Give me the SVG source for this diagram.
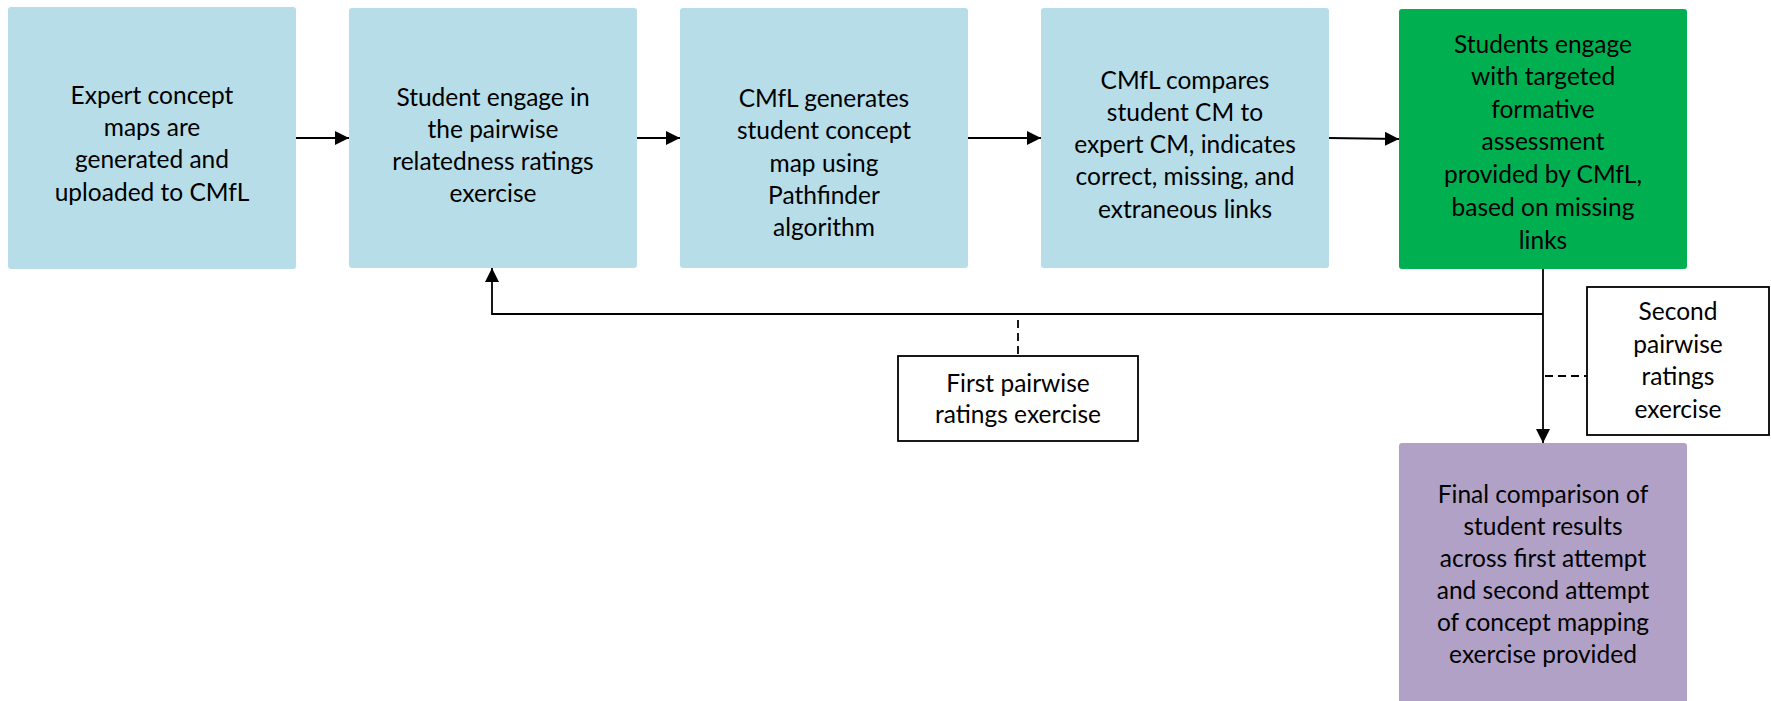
<svg xmlns="http://www.w3.org/2000/svg" width="1771" height="701" viewBox="0 0 1771 701">
  <style>
    .step { fill: #B7DDE8; }
    .feedback { fill: #00B050; }
    .final { fill: #B2A1C7; }
    .note { fill: #FFFFFF; stroke: #000000; stroke-width: 1.8; }
    text { font-family: Lato, "Open Sans", "Liberation Sans", sans-serif; font-size: 24.5px; fill: #000000; text-anchor: middle; }
    .wire { fill: none; stroke: #000000; stroke-width: 1.8; }
    .dash { fill: none; stroke: #000000; stroke-width: 1.8; stroke-dasharray: 8 5; }
  </style>
  <defs>
    <marker id="arrow" viewBox="0 0 14 14" refX="14" refY="7" markerWidth="14" markerHeight="14" markerUnits="userSpaceOnUse" orient="auto">
      <path d="M0,0 L14,7 L0,14 Z" fill="#000000"/>
    </marker>
  </defs>

  <g id="connectors">
    <line class="wire" x1="296" y1="138" x2="349" y2="138" marker-end="url(#arrow)"/>
    <line class="wire" x1="637" y1="138" x2="680" y2="138" marker-end="url(#arrow)"/>
    <line class="wire" x1="968" y1="138" x2="1041" y2="138" marker-end="url(#arrow)"/>
    <line class="wire" x1="1329" y1="138" x2="1399" y2="139" marker-end="url(#arrow)"/>
    <!-- loop back to the ratings exercise -->
    <polyline class="wire" points="1543,314 492,314 492,268" marker-end="url(#arrow)"/>
    <line class="wire" x1="1543" y1="269" x2="1543" y2="443" marker-end="url(#arrow)"/>
    <line class="dash" x1="1018" y1="320" x2="1018" y2="356"/>
    <line class="dash" x1="1545" y1="376" x2="1587" y2="376"/>
  </g>

  <g id="expert-maps">
    <rect class="step" x="8" y="7" width="288" height="262" rx="3"/>
    <text x="152" y="104">Expert concept</text>
    <text x="152" y="136">maps are</text>
    <text x="152" y="168">generated and</text>
    <text x="152" y="201">uploaded to CMfL</text>
  </g>

  <g id="ratings-exercise">
    <rect class="step" x="349" y="8" width="288" height="260" rx="3"/>
    <text x="493" y="106">Student engage in</text>
    <text x="493" y="138">the pairwise</text>
    <text x="493" y="170">relatedness ratings</text>
    <text x="493" y="202">exercise</text>
  </g>

  <g id="pathfinder">
    <rect class="step" x="680" y="8" width="288" height="260" rx="3"/>
    <text x="824" y="107">CMfL generates</text>
    <text x="824" y="139">student concept</text>
    <text x="824" y="172">map using</text>
    <text x="824" y="204">Pathfinder</text>
    <text x="824" y="236">algorithm</text>
  </g>

  <g id="comparison">
    <rect class="step" x="1041" y="8" width="288" height="260" rx="3"/>
    <text x="1185" y="89">CMfL compares</text>
    <text x="1185" y="121">student CM to</text>
    <text x="1185" y="153">expert CM, indicates</text>
    <text x="1185" y="185">correct, missing, and</text>
    <text x="1185" y="218">extraneous links</text>
  </g>

  <g id="formative-assessment">
    <rect class="feedback" x="1399" y="9" width="288" height="260" rx="3"/>
    <text x="1543" y="53">Students engage</text>
    <text x="1543" y="85">with targeted</text>
    <text x="1543" y="118">formative</text>
    <text x="1543" y="150">assessment</text>
    <text x="1543" y="183">provided by CMfL,</text>
    <text x="1543" y="216">based on missing</text>
    <text x="1543" y="249">links</text>
  </g>

  <g id="first-ratings">
    <rect class="note" x="898" y="356" width="240" height="85"/>
    <text x="1018" y="392">First pairwise</text>
    <text x="1018" y="423">ratings exercise</text>
  </g>

  <g id="second-ratings">
    <rect class="note" x="1587" y="287" width="182" height="148"/>
    <text x="1678" y="320">Second</text>
    <text x="1678" y="353">pairwise</text>
    <text x="1678" y="385">ratings</text>
    <text x="1678" y="418">exercise</text>
  </g>

  <g id="final-comparison">
    <rect class="final" x="1399" y="443" width="288" height="262" rx="3"/>
    <text x="1543" y="503">Final comparison of</text>
    <text x="1543" y="535">student results</text>
    <text x="1543" y="567">across first attempt</text>
    <text x="1543" y="599">and second attempt</text>
    <text x="1543" y="631">of concept mapping</text>
    <text x="1543" y="663">exercise provided</text>
  </g>
</svg>
